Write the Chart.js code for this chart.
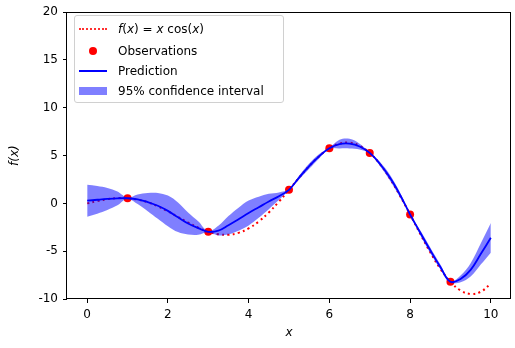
<!DOCTYPE html>
<html>
<head>
<meta charset="utf-8">
<script src="https://cdn.jsdelivr.net/npm/chart.js@4.4.1/dist/chart.umd.min.js"></script>
<style>
  body { margin: 0; background: #fff; }
  #wrap { position: relative; width: 515px; height: 348px; font-family: "DejaVu Sans", sans-serif; }
  #legend {
    position: absolute; left: 74px; top: 15px; width: 210px; height: 88px;
    border: 1px solid #d0d0d0; border-radius: 3px; background: rgba(255,255,255,0.8);
    box-sizing: border-box; font-size: 12px; color: #000;
  }
  .row { position: absolute; left: 0; height: 14px; line-height: 14px; width: 100%; }
  .row span.lbl { position: absolute; left: 43px; top: 0; white-space: nowrap; }
  .sym { position: absolute; left: 4px; width: 28px; }
</style>
</head>
<body>
<div id="wrap">
  <canvas id="myChart" width="515" height="348"></canvas>
  <div id="legend">
    <div class="row" style="top:6px"><div class="sym" style="top:6px;border-top:2px dotted #ff3030"></div><span class="lbl"><i>f</i>(<i>x</i>) = <i>x</i> cos(<i>x</i>)</span></div>
    <div class="row" style="top:28px"><div class="sym" style="left:14px;top:3px;width:8px;height:8px;border-radius:50%;background:#ff0000"></div><span class="lbl">Observations</span></div>
    <div class="row" style="top:48px"><div class="sym" style="top:6px;border-top:2px solid #0000ff"></div><span class="lbl">Prediction</span></div>
    <div class="row" style="top:68px"><div class="sym" style="top:3px;height:8px;background:rgba(0,0,255,0.5)"></div><span class="lbl">95% confidence interval</span></div>
  </div>
</div>
<script>
// grid used for the curves
const xs = [0, 0.25, 0.5, 0.75, 1, 1.25, 1.5, 1.75, 2, 2.25, 2.5, 2.75, 3, 3.25, 3.5, 3.75, 4, 4.25, 4.5, 4.75,
            5, 5.25, 5.5, 5.75, 6, 6.25, 6.5, 6.75, 7, 7.25, 7.5, 7.75, 8, 8.25, 8.5, 8.75, 9, 9.25, 9.5, 9.75, 10];

// true function (red dotted)
const trueF = [0, 0.24, 0.44, 0.55, 0.54, 0.39, 0.11, -0.31, -0.83, -1.41, -2.0, -2.54, -2.97, -3.23, -3.28, -3.08,
               -2.61, -1.9, -0.95, 0.18, 1.42, 2.69, 3.9, 4.94, 5.76, 6.25, 6.35, 6.03, 5.28, 4.13, 2.6, 0.8,
               -1.16, -3.18, -5.12, -6.84, -8.2, -9.11, -9.47, -9.24, -8.39];

// prediction (blue)
const pred = [0.28, 0.38, 0.47, 0.53, 0.54, 0.43, 0.14, -0.25, -0.78, -1.45, -2.1, -2.58, -2.97, -2.85, -2.28, -1.65,
              -1.0, -0.4, 0.2, 0.75, 1.42, 2.7, 3.9, 4.95, 5.76, 6.2, 6.25, 5.95, 5.28, 4.15, 2.7, 0.9,
              -1.16, -3.05, -4.9, -6.65, -8.2, -7.9, -6.95, -5.3, -3.6];

// half width of the 95% interval
const ci95 = [1.68, 1.45, 1.15, 0.72, 0.05, 0.5, 0.95, 1.35, 1.6, 1.55, 1.15, 0.7, 0.05, 0.5, 0.95, 1.2,
              1.3, 1.1, 0.8, 0.4, 0.05, 0.2, 0.28, 0.22, 0.05, 0.45, 0.5, 0.3, 0.05, 0.2, 0.3, 0.25,
              0.05, 0.25, 0.3, 0.25, 0.05, 0.35, 0.7, 1.1, 1.55];

// observations
const obsX = [1, 3, 5, 6, 7, 8, 9];
const obsY = [0.54, -2.97, 1.42, 5.76, 5.28, -1.16, -8.2];

const xTicks = [0, 2, 4, 6, 8, 10];
const yTicks = [-10, -5, 0, 5, 10, 15, 20];

const pts = (ys) => xs.map((x, i) => ({ x: x, y: ys[i] }));
const lower = pts(pred.map((p, i) => p - ci95[i]));
const upper = pts(pred.map((p, i) => p + ci95[i]));

const frame = {
  id: 'frame',
  afterDraw(chart) {
    const a = chart.chartArea, c = chart.ctx;
    c.save();
    c.strokeStyle = '#000';
    c.lineWidth = 1;
    c.strokeRect(Math.round(a.left) - 0.5, Math.round(a.top) + 0.5, Math.round(a.right - a.left), Math.round(a.bottom - a.top) - 1);
    c.restore();
  }
};

const font = { family: 'DejaVu Sans', size: 12 };

new Chart(document.getElementById('myChart'), {
  type: 'line',
  data: {
    datasets: [
      { data: lower, borderWidth: 0, pointRadius: 0, fill: false, order: 1, tension: 0.35 },
      { data: upper, borderWidth: 0, pointRadius: 0, fill: '-1', backgroundColor: 'rgba(0,0,255,0.5)', order: 0, tension: 0.35 },
      { data: pts(trueF), borderColor: '#ff0000', borderWidth: 2, borderDash: [2, 3.3], pointRadius: 0, order: 4, tension: 0.4 },
      { data: obsX.map((x, i) => ({ x: x, y: obsY[i] })), showLine: false, pointRadius: 4, pointBackgroundColor: '#ff0000', pointBorderWidth: 0, order: 3 },
      { data: pts(pred), borderColor: '#0000ff', borderWidth: 1.8, pointRadius: 0, order: 2, tension: 0.4 }
    ]
  },
  options: {
    responsive: false,
    animation: false,
    layout: { padding: { top: 9, right: 2, left: 0, bottom: 0 } },
    plugins: { legend: { display: false }, tooltip: { enabled: false } },
    scales: {
      x: {
        type: 'linear', min: -0.5, max: 10.5,
        afterBuildTicks: (s) => { s.ticks = xTicks.map(v => ({ value: v })); },
        afterFit: (s) => { s.height = 49; },
        grid: { drawOnChartArea: false, drawTicks: true, tickLength: 4, tickColor: '#000' },
        border: { display: false },
        ticks: { font: font, color: '#000', padding: 5, maxRotation: 0 },
        title: { display: true, text: 'x', font: { family: 'DejaVu Sans', size: 12, style: 'italic' }, color: '#000', padding: { top: 0, bottom: 8 } }
      },
      y: {
        type: 'linear', min: -10, max: 20,
        afterBuildTicks: (s) => { s.ticks = yTicks.map(v => ({ value: v })); },
        afterFit: (s) => { s.width = 67; },
        grid: { drawOnChartArea: false, drawTicks: true, tickLength: 4, tickColor: '#000' },
        border: { display: false },
        ticks: { font: font, color: '#000', padding: 5 },
        title: { display: true, text: 'f(x)', font: { family: 'DejaVu Sans', size: 12, style: 'italic' }, color: '#000', padding: { top: 8, bottom: 0 } }
      }
    }
  },
  plugins: [frame]
});
</script>
</body>
</html>
